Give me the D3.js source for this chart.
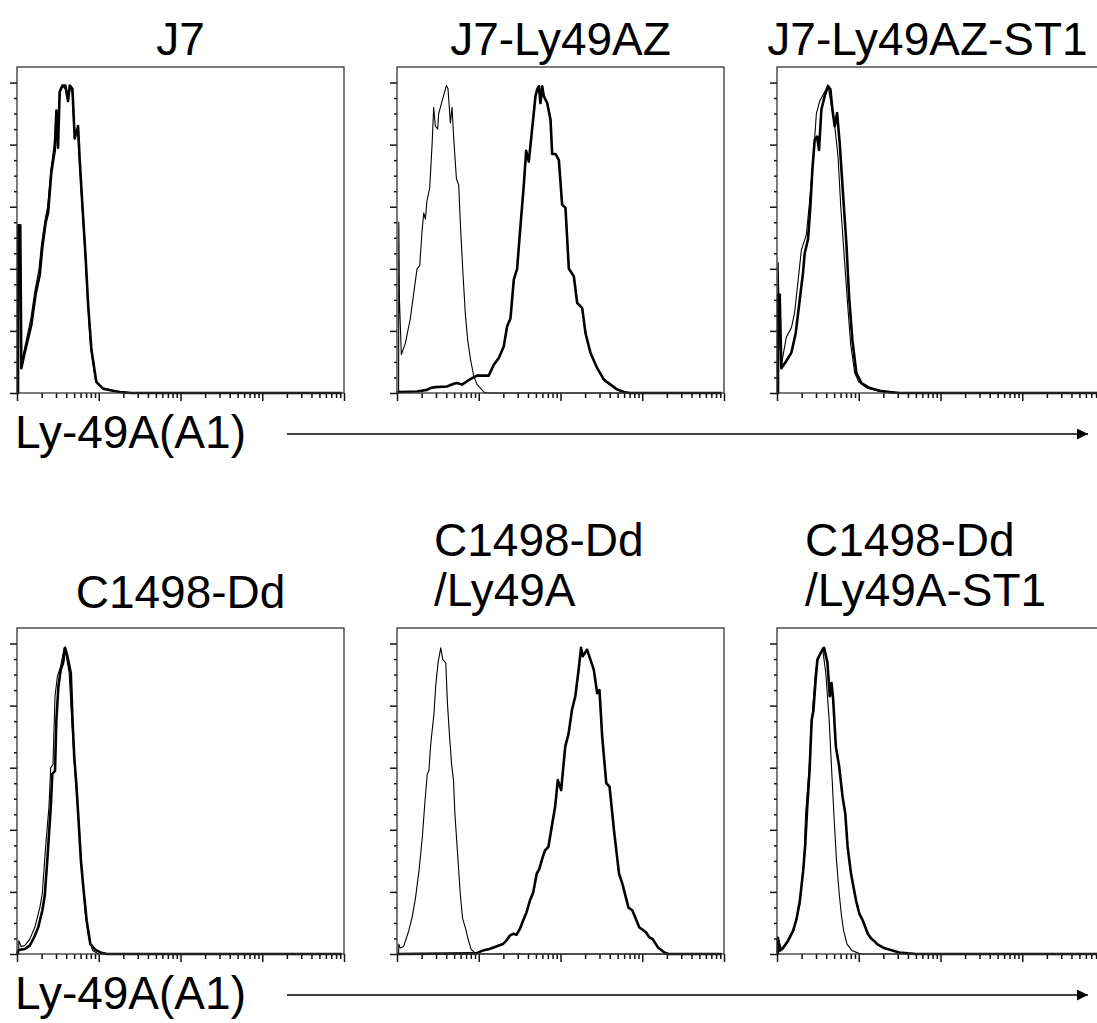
<!DOCTYPE html>
<html>
<head>
<meta charset="utf-8">
<script src="https://cdn.jsdelivr.net/npm/d3@7"></script>
<style>
  body { margin: 0; background: #fff; }
  text { font-family: "Liberation Sans", Arial, Helvetica, sans-serif; fill: #000; }
</style>
</head>
<body>
<svg></svg>
<script>
// panel titles (one array entry per text line)
const titles = [
    ["J7"], ["J7-Ly49AZ"], ["J7-Ly49AZ-ST1"],
    ["C1498-Dd"], ["C1498-Dd", "/Ly49A"], ["C1498-Dd", "/Ly49A-ST1"]
];
const axisLabel = "Ly-49A(A1)";

// histograms: [log10 fluorescence, % of max]; thin = control, thick = stained
const j7Thin = [[0,0],[0.012,0],[0.016,50],[0.035,50],[0.05,9],[0.09,14],[0.17,24],[0.22,33],[0.27,40],[0.3,48],[0.345,56],[0.375,60],[0.415,72],[0.455,80],[0.48,90],[0.5,82],[0.52,96],[0.55,99],[0.59,98],[0.62,95],[0.645,98],[0.675,97],[0.7,84],[0.74,85],[0.765,74],[0.8,58],[0.835,44],[0.862,30],[0.9,15],[0.96,4],[1.04,1.8],[1.2,0.6],[1.35,0.2],[1.5,0],[3.97,0]];
const j7Thick = [[0,0],[0.012,0],[0.015,54],[0.04,54],[0.053,8],[0.094,13],[0.176,22],[0.229,32],[0.278,38],[0.31,47],[0.351,55],[0.38,58],[0.42,71],[0.461,78],[0.482,91],[0.502,79],[0.522,97],[0.555,99],[0.592,99],[0.624,94],[0.645,99],[0.678,98],[0.706,82],[0.747,86],[0.767,75],[0.808,57],[0.841,43],[0.869,29],[0.91,14],[0.971,3.5],[1.053,1.4],[1.216,0.5],[1.257,0.3],[1.4,0],[3.97,0]];

const azThin = [[0,0],[0.02,0],[0.022,55],[0.03,30],[0.053,12.4],[0.102,16],[0.163,24],[0.204,32],[0.245,40],[0.278,41],[0.306,52],[0.327,58],[0.347,56],[0.367,62],[0.4,66],[0.429,80],[0.449,92],[0.469,86],[0.498,85],[0.51,90],[0.551,94],[0.604,99],[0.624,98],[0.653,87],[0.673,92],[0.694,82],[0.727,69],[0.755,67],[0.776,54],[0.808,38],[0.837,25],[0.865,17],[0.898,11],[0.939,5.4],[0.98,2.7],[1.02,1.6],[1.069,0.2],[1.1,0],[3.97,0]];
const azThick = [[0,0],[0.02,0.3],[0.245,0.5],[0.367,1],[0.408,1.6],[0.469,1.9],[0.612,2.1],[0.694,3],[0.735,3.2],[0.796,2.7],[0.857,3.8],[0.918,4.8],[0.98,5.6],[1.122,5.6],[1.184,9.1],[1.245,11.3],[1.306,15],[1.347,21.5],[1.388,24],[1.429,36.5],[1.469,40],[1.51,53.7],[1.551,67],[1.58,78],[1.612,74.5],[1.653,85],[1.694,95.6],[1.714,97.7],[1.735,98.8],[1.755,93.4],[1.776,98.8],[1.796,95.6],[1.837,93.4],[1.878,88],[1.898,77],[1.939,77],[1.98,75],[2.02,60.7],[2.061,59.6],[2.102,40],[2.163,37.6],[2.204,29],[2.265,27.4],[2.306,19.3],[2.367,12.9],[2.449,8],[2.531,4.3],[2.612,2.7],[2.694,1.1],[2.776,0.3],[2.85,0],[3.97,0]];

const azSt1Thin = [[0,0],[0.012,0],[0.014,42],[0.03,20],[0.053,9],[0.114,18],[0.176,21],[0.216,26],[0.298,46],[0.359,51],[0.4,62],[0.441,75],[0.482,90],[0.522,94],[0.584,97],[0.624,99],[0.665,92.6],[0.706,86],[0.747,76],[0.78,60],[0.82,45],[0.86,30],[0.9,16],[0.95,6.5],[1.0,3.5],[1.1,1.6],[1.257,0.5],[1.4,0],[3.97,0]];
const azSt1Thick = [[0,0],[0.012,0],[0.014,31.7],[0.033,31.7],[0.053,8],[0.114,10.3],[0.176,13],[0.229,19.3],[0.278,30],[0.318,38.7],[0.339,45],[0.38,49.6],[0.408,60],[0.433,72],[0.461,81.5],[0.49,82.6],[0.514,78.3],[0.543,91.3],[0.584,95.7],[0.624,98.9],[0.653,97.8],[0.678,91.3],[0.706,85.9],[0.735,90.2],[0.767,80.5],[0.808,64],[0.849,48],[0.882,31],[0.922,17],[0.971,6.4],[1.033,3.2],[1.135,1.6],[1.257,0.75],[1.38,0.3],[1.5,0],[3.97,0]];

const ddThin = [[0,0],[0.02,0],[0.022,4.3],[0.05,2.4],[0.095,2.7],[0.156,4.8],[0.218,8.6],[0.28,15],[0.309,19.4],[0.35,34.5],[0.391,47.4],[0.412,60],[0.44,61],[0.465,83],[0.494,89.4],[0.535,92.7],[0.576,98.6],[0.597,97],[0.638,90.5],[0.67,75.4],[0.7,62.5],[0.728,51.7],[0.761,41],[0.794,27],[0.835,13],[0.876,5.4],[0.926,1.1],[0.99,0.1],[1.05,0],[3.97,0]];
const ddThick = [[0,0],[0.02,1.3],[0.095,1.6],[0.156,2.7],[0.21,5.4],[0.26,8.6],[0.31,14],[0.34,19],[0.37,30],[0.412,47],[0.432,58],[0.465,59],[0.481,75],[0.506,86],[0.535,91.6],[0.564,93.8],[0.588,98.6],[0.617,95.9],[0.658,90.5],[0.679,75.4],[0.7,63.6],[0.728,54],[0.753,43],[0.782,30],[0.811,21.6],[0.852,10.8],[0.897,3.2],[0.96,1.3],[1.02,0.5],[1.1,0],[3.97,0]];

const ddAThin = [[0,0],[0.02,0],[0.022,3.2],[0.04,1.9],[0.08,2.4],[0.144,7.5],[0.185,11.8],[0.226,18],[0.27,27],[0.31,37.7],[0.34,48.5],[0.37,58],[0.39,59],[0.41,66.8],[0.43,72],[0.453,77.6],[0.473,86.2],[0.502,93.8],[0.535,98.6],[0.56,94.8],[0.597,93.8],[0.617,80.8],[0.638,72],[0.667,61.4],[0.691,56],[0.708,45.3],[0.741,32.3],[0.774,19.4],[0.802,11.5],[0.835,8.6],[0.864,5.4],[0.905,1.6],[0.946,0.5],[1.0,0],[3.97,0]];
const ddAThick = [[0,0],[0.02,0],[0.967,0.2],[1.049,1.1],[1.13,1.6],[1.214,2.4],[1.296,3.2],[1.337,4.3],[1.379,5.9],[1.42,6.5],[1.461,6.2],[1.502,8],[1.543,10.8],[1.584,13.4],[1.626,17.2],[1.667,19.9],[1.708,25.8],[1.741,27.4],[1.78,31],[1.811,33.4],[1.852,34.5],[1.893,41],[1.934,47.4],[1.967,56],[2.008,52.8],[2.058,66.8],[2.099,71],[2.14,78.6],[2.181,83],[2.222,91.6],[2.251,98.6],[2.272,95.9],[2.325,98],[2.366,94.8],[2.407,91.6],[2.449,84],[2.477,85],[2.51,70],[2.56,55],[2.6,53.9],[2.654,39.9],[2.716,25.9],[2.757,22.6],[2.831,15],[2.88,14],[2.963,8.6],[3.045,7],[3.086,5.4],[3.128,4.8],[3.19,2.2],[3.27,0.5],[3.32,0],[3.97,0]];

const ddASt1Thin = [[0,0],[0.01,0],[0.012,5.2],[0.053,1.6],[0.095,2.7],[0.156,5.4],[0.218,9.1],[0.28,16],[0.309,24.7],[0.33,30],[0.35,45],[0.391,59],[0.432,77.6],[0.473,91.6],[0.514,95.9],[0.556,98.6],[0.597,90.5],[0.638,75.4],[0.671,58],[0.7,43],[0.728,30],[0.761,19.4],[0.79,12],[0.815,7.5],[0.856,3.2],[0.918,1.1],[1.0,0.2],[1.05,0],[3.97,0]];
const ddASt1Thick = [[0,0],[0.01,0],[0.012,5.2],[0.033,1.1],[0.074,1.9],[0.136,4.3],[0.198,7.5],[0.239,11.3],[0.28,17.2],[0.321,27],[0.345,35],[0.37,47.4],[0.399,59.3],[0.424,75.4],[0.444,78],[0.473,88.4],[0.494,94.8],[0.535,97],[0.576,98.6],[0.617,93.8],[0.646,83],[0.667,87.3],[0.687,82],[0.72,66.8],[0.761,60.3],[0.802,50.6],[0.835,45.3],[0.864,34.5],[0.905,25.9],[0.967,17.2],[1.008,12.9],[1.049,10.8],[1.111,6.5],[1.152,5],[1.185,4.3],[1.226,3.2],[1.309,1.9],[1.412,1.1],[1.494,0.5],[1.6,0.2],[1.7,0],[3.97,0]];

const thinSeries = [j7Thin, azThin, azSt1Thin, ddThin, ddAThin, ddASt1Thin];
const thickSeries = [j7Thick, azThick, azSt1Thick, ddThick, ddAThick, ddASt1Thick];

const width = 1097;
const height = 1023;
const panelW = 327;
const panelH = 326;
const colX = [17, 397, 777];
const rowY = [67, 628];
const fontSize = 46;

let svg = d3.select("svg")
    .attr("width", width)
    .attr("height", height)

let xScale = d3.scaleLog().domain([1, 1e4]).range([0, panelW]);
let yScale = d3.scaleLinear().domain([0, 105]).range([panelH, 0]);

let xTicks = [];
for (let p = 0; p < 4; p++) {
    for (let k = 1; k < 10; k++) xTicks.push(k * Math.pow(10, p));
}
xTicks.push(1e4);
let yTicks = d3.range(0, 101, 5);

let line = d3.line()
    .x(d => xScale(Math.pow(10, d[0])))
    .y(d => yScale(d[1]));

titles.forEach((t, i) => {
    let row = Math.floor(i / 3), col = i % 3;
    let g = svg.append("g")
        .attr("transform", `translate(${colX[col]}, ${rowY[row]})`)

    // x axis ticks (log decades)
    let xAxis = g.append("g")
        .attr("transform", `translate(0, ${panelH})`)
        .call(d3.axisBottom(xScale).tickValues(xTicks).tickFormat("").tickSizeOuter(0))
    xAxis.select(".domain").remove();
    xAxis.selectAll(".tick line")
        .attr("y2", d => Number.isInteger(Math.log10(d)) ? 8 : 5)
        .attr("stroke", "#111")
        .attr("stroke-width", 1.5)

    let yAxis = g.append("g")
        .call(d3.axisLeft(yScale).tickValues(yTicks).tickFormat("").tickSizeOuter(0))
    yAxis.select(".domain").remove();
    yAxis.selectAll(".tick line")
        .attr("x2", d => d % 20 === 0 ? -7 : -3)
        .attr("stroke", "#111")
        .attr("stroke-width", 1.5)

    g.append("path")
        .datum(thickSeries[i])
        .attr("d", line)
        .attr("fill", "none")
        .attr("stroke", "#000")
        .attr("stroke-width", 2.6)
        .attr("stroke-linejoin", "round")

    g.append("path")
        .datum(thinSeries[i])
        .attr("d", line)
        .attr("fill", "none")
        .attr("stroke", "#000")
        .attr("stroke-width", 1.1)
        .attr("stroke-linejoin", "round")

    g.append("rect")
        .attr("width", panelW)
        .attr("height", panelH)
        .attr("fill", "none")
        .attr("stroke", "#333")
        .attr("stroke-width", 1.3)

    // titles: one-line titles centred, two-line titles left aligned
    let cx = colX[col] + panelW / 2;
    if (t.length === 1) {
        svg.append("text")
            .attr("x", i === 2 ? cx - 13 : cx)
            .attr("y", row === 0 ? 55 : 608)
            .style("text-anchor", "middle")
            .style("font-size", fontSize + "px")
            .text(t[0])
    } else {
        let tx = col === 1 ? colX[col] + 37 : colX[col] + 28;
        t.forEach((s, j) => {
            svg.append("text")
                .attr("x", tx)
                .attr("y", 556 + j * 50)
                .style("font-size", fontSize + "px")
                .text(s)
        })
    }
});

// axis labels with arrows under each row
let defs = svg.append("defs");
defs.append("marker")
    .attr("id", "arrow")
    .attr("viewBox", "0 0 10 10")
    .attr("refX", 10)
    .attr("refY", 5)
    .attr("markerWidth", 12)
    .attr("markerHeight", 11)
    .attr("markerUnits", "userSpaceOnUse")
    .attr("orient", "auto")
    .append("path")
    .attr("d", "M0,0L10,5L0,10Z")
    .attr("fill", "#000")

rowY.forEach(ry => {
    let base = ry + panelH + 55;
    svg.append("text")
        .attr("x", 15)
        .attr("y", base)
        .style("font-size", fontSize + "px")
        .text(axisLabel)
    svg.append("line")
        .attr("x1", 287)
        .attr("x2", 1088)
        .attr("y1", base - 14)
        .attr("y2", base - 14)
        .attr("stroke", "#000")
        .attr("stroke-width", 1.5)
        .attr("marker-end", "url(#arrow)")
});
</script>
</body>
</html>
